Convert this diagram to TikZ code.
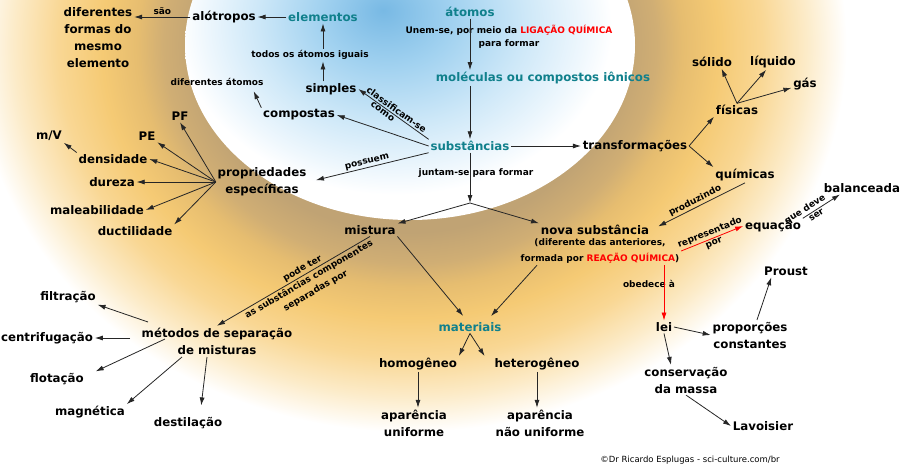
\documentclass[tikz,border=0pt]{standalone}
\usepackage{fontspec}
\setmainfont{DejaVu Sans}
\usetikzlibrary{arrows.meta}

\definecolor{petroleo}{RGB}{16,128,140}
\definecolor{vermelho}{RGB}{255,0,0}
\definecolor{areiaA}{RGB}{192,163,116}
\definecolor{areiaB}{RGB}{208,174,116}
\definecolor{ouroA}{RGB}{230,189,112}
\definecolor{ouroB}{RGB}{245,202,116}
\definecolor{ouroC}{RGB}{249,215,148}
\definecolor{ouroD}{RGB}{252,235,200}
\definecolor{ceuA}{RGB}{120,185,228}
\definecolor{ceuB}{RGB}{162,210,240}
\definecolor{ceuC}{RGB}{206,232,248}
\definecolor{ceuD}{RGB}{238,247,253}
\pgfdeclareradialshading{anel}{\pgfpoint{0bp}{0bp}}{color(0bp)=(areiaA); color(12bp)=(areiaA); color(14bp)=(areiaB); color(15.5bp)=(ouroA); color(17.5bp)=(ouroB); color(20bp)=(ouroC); color(22.5bp)=(ouroD); color(24.8bp)=(white); color(50bp)=(white)}
\pgfdeclareradialshading{ceu}{\pgfpoint{-3bp}{5bp}}{color(0bp)=(ceuA); color(7.5bp)=(ceuB); color(15bp)=(ceuC); color(21bp)=(ceuD); color(24bp)=(white); color(50bp)=(white)}

\begin{document}
\begin{tikzpicture}[x=1pt,y=-1pt,line width=0.8pt]
\tikzset{
  conceito/.style={font=\fontsize{11.8}{17}\selectfont\bfseries,inner sep=1.5pt,align=center},
  destaque/.style={conceito,text=petroleo},
  rotulo/.style={font=\fontsize{9}{13}\selectfont\bfseries,inner sep=1.5pt,align=center},
  seta/.style={-{Latex[length=8pt,width=5pt]},draw=black!85},
  setaverm/.style={-{Latex[length=8pt,width=5pt]},draw=vermelho}
}

% ---------- fundo ----------
\useasboundingbox (0,0) rectangle (900,467);
\begin{scope}
\clip (0,0) rectangle (900,467);
\fill[white] (0,0) rectangle (900,467);
\shade[shading=anel] (410,45) ellipse [x radius=440pt,y radius=390pt];
\shade[shading=ceu] (410,45) ellipse [x radius=225pt,y radius=175pt];
\end{scope}

% ---------- atomos e substancias ----------
\node[destaque] (at) at (470,12) {átomos};
\node[rotulo] (unem) at (509,37) {Unem-se, por meio da \textcolor{vermelho}{LIGAÇÃO QUÍMICA}\\para formar};
\node[destaque] (mol) at (543,78) {moléculas ou compostos iônicos};
\node[destaque] (sub) at (470,146) {substâncias};

\draw[seta] (at)--(at |- mol.north);
\draw[seta] (mol.south -| at)--(sub);

% ---------- simples e compostas ----------
\node[destaque] (el) at (323,17) {elementos};
\node[conceito] (alo) at (224,17) {alótropos};
\node[conceito] (formas) at (98,38) {diferentes\\formas do\\mesmo\\elemento};
\node[rotulo] (todos) at (310,55) {todos os átomos iguais};
\node[conceito] (simp) at (331,89) {simples};
\node[conceito] (comp) at (299,115) {compostas};
\node[rotulo] (difat) at (217,82) {diferentes átomos};

\draw[seta] (el)--(alo);
\draw[seta] (alo.west)--(alo.west -| formas.east) node[midway,above,rotulo] {são};
\draw[seta] (simp.north -| el.south)--(todos.south -| el.south);
\draw[seta] (todos.north -| el.south)--(el.south);
\draw[seta,shorten >=4pt] (comp.north west)--([xshift=35pt]difat.south);
\draw[seta] (sub.north west)--(simp.east)
  node[pos=0.5,sloped,above,rotulo] {classificam-se}
  node[pos=0.62,sloped,below,rotulo] {como};
\draw[seta] (sub.west)--(comp.east);

% ---------- propriedades ----------
\node[conceito] (prop) at (262,182) {propriedades\\específicas};
\node[conceito] (pf) at (180,116) {PF};
\node[conceito] (pe) at (147,136) {PE};
\node[conceito] (mv) at (49,136) {m/V};
\node[conceito] (dens) at (113,159) {densidade};
\node[conceito] (dur) at (112,182) {dureza};
\node[conceito] (mal) at (97,210) {maleabilidade};
\node[conceito] (duc) at (135,231) {ductilidade};

\draw[seta,shorten >=8pt] (sub.south west)--(prop.east) node[midway,sloped,above,rotulo] {possuem};
\draw[seta] (prop.west)--(pf.south);
\draw[seta] (prop.west)--(pe.south east);
\draw[seta] (prop.west)--(dens.east);
\draw[seta] (prop.west)--(dur.east);
\draw[seta] (prop.west)--(mal.east);
\draw[seta] (prop.west)--(duc.north east);
\draw[seta] (dens.north west)--(mv.south east);

% ---------- transformacoes ----------
\node[conceito] (transf) at (635,146) {transformações};
\node[conceito] (fis) at (737,110) {físicas};
\node[conceito] (sol) at (712,62) {sólido};
\node[conceito] (liq) at (773,62) {líquido};
\node[conceito] (gas) at (805,84) {gás};
\node[conceito] (quim) at (745,175) {químicas};

\draw[seta] (sub)--(transf);
\draw[seta] (transf.east)--(fis.south west);
\draw[seta] (transf.east)--(quim.north west);
\draw[seta] (fis.north)--(sol.-35);
\draw[seta] (fis.north)--(liq);
\draw[seta] (fis.north)--(gas);

% ---------- nova substancia ----------
\node[conceito] (nova) at (595,230) {nova substância};
\node[rotulo,font=\fontsize{9}{16}\selectfont\bfseries] (novaobs) at (600,251) {(diferente das anteriores,\\formada por \textcolor{vermelho}{REAÇÃO QUÍMICA})};
\node[conceito] (equ) at (773,226) {equação};
\node[conceito] (bal) at (862,188) {balanceada};
\node[rotulo] (obed) at (649,284) {obedece à};
\node[conceito] (lei) at (664,327) {lei};
\node[conceito] (prop2) at (750,335) {proporções\\constantes};
\node[conceito] (proust) at (786,271) {Proust};
\node[conceito] (cons) at (686,380) {conservação\\da massa};
\node[conceito] (lav) at (763,426) {Lavoisier};

\draw[seta,shorten >=8pt] (quim.south)--(nova.east) node[midway,sloped,above,rotulo] {produzindo};
\draw[setaverm] (novaobs.east)--(equ.west)
  node[midway,sloped,above,rotulo] {representado}
  node[midway,sloped,below,rotulo] {por};
\draw[seta] (equ.north east)--([xshift=-22pt]bal.south)
  node[pos=0.15,sloped,above,rotulo] {que deve}
  node[pos=0.3,sloped,below,rotulo] {ser};
\draw[setaverm] (novaobs.south -| lei)--(lei);
\draw[seta] (lei.east)--(prop2.west);
\draw[seta] ([xshift=7pt]prop2.north)--([xshift=9pt]proust.south west);
\draw[seta] (lei.south)--([xshift=-15pt]cons.north);
\draw[seta] (cons.south)--(lav.west);

% ---------- misturas ----------
\coordinate (junta) at (470,203);
\node[rotulo] (juntam) at (476,173) {juntam-se para formar};
\node[conceito] (mist) at (370,230) {mistura};
\node[destaque] (mat) at (470,327) {materiais};
\node[conceito] (homo) at (418,364) {homogêneo};
\node[conceito] (hetero) at (537,364) {heterogêneo};
\node[conceito] (apar1) at (414,423) {aparência\\uniforme};
\node[conceito] (apar2) at (540,423) {aparência\\não uniforme};

\draw[seta] (sub)--(junta);
\draw[seta] (junta)--(mist.north east);
\draw[seta] (junta)--(nova.north west);
\draw[seta,shorten >=6pt] (mist.south east)--([xshift=-3pt]mat.north);
\draw[seta,shorten >=6pt] ([xshift=-63pt]novaobs.south)--([xshift=17pt]mat.north);
\draw[seta] (mat.south)--(homo.north east);
\draw[seta] (mat.south)--([xshift=-8pt]hetero.north west);
\draw[seta] (homo.south)--(homo.south |- apar1.north);
\draw[seta] (hetero.south)--(hetero.south |- apar2.north);

% ---------- metodos de separacao ----------
\node[conceito] (met) at (217,341) {métodos de separação\\de misturas};
\node[conceito] (filt) at (68,297) {filtração};
\node[conceito] (centr) at (47,338) {centrifugação};
\node[conceito] (flot) at (57,379) {flotação};
\node[conceito] (mag) at (90,412) {magnética};
\node[conceito] (dest) at (188,423) {destilação};

\draw[seta] (mist.south)--(met.north)
  node[pos=0.42,sloped,above,rotulo] {pode ter}
  node[pos=0.42,sloped,below,rotulo] {as substâncias componentes\\separadas por};
\draw[seta] ([shift={(-69,-19)}]met.center)--(filt.south east);
\draw[seta] ([shift={(-87,-3)}]met.center)--(centr.east);
\draw[seta] ([shift={(-52,-2)}]met.center)--([xshift=10pt]flot.north east);
\draw[seta] ([shift={(-35,16)}]met.center)--(mag.north east);
\draw[seta,shorten >=10pt] ([shift={(-10,16)}]met.center)--([xshift=12pt]dest.north);

\node[font=\fontsize{8.5}{10}\selectfont] (autor) at (690,460) {©Dr Ricardo Esplugas - sci-culture.com/br};

\end{tikzpicture}
\end{document}
